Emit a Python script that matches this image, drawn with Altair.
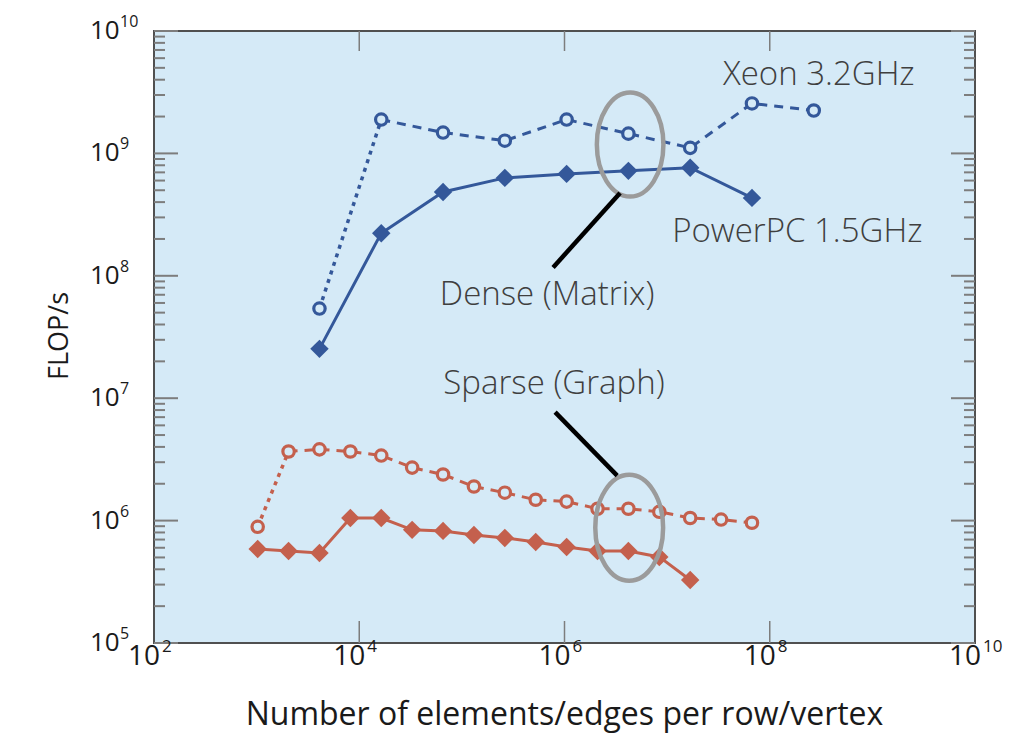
import altair as alt
import pandas as pd

# ---------------- data ----------------
dense_x = [4096, 16384, 65536, 262144, 1048576, 4194304, 16777216, 67108864, 268435456]
xeon_dense = [5.4e7, 1.89e9, 1.48e9, 1.27e9, 1.89e9, 1.45e9, 1.11e9, 2.56e9, 2.24e9]
ppc_dense = [2.53e7, 2.23e8, 4.84e8, 6.31e8, 6.8e8, 7.2e8, 7.64e8, 4.33e8]

sparse_x = [1024, 2048, 4096, 8192, 16384, 32768, 65536, 131072, 262144, 524288,
            1048576, 2097152, 4194304, 8388608, 16777216, 33554432, 67108864]
xeon_sparse = [8.9e5, 3.67e6, 3.82e6, 3.67e6, 3.40e6, 2.71e6, 2.38e6, 1.90e6, 1.69e6,
               1.48e6, 1.43e6, 1.25e6, 1.25e6, 1.18e6, 1.05e6, 1.02e6, 9.6e5]
ppc_sparse = [5.86e5, 5.65e5, 5.44e5, 1.05e6, 1.05e6, 8.4e5, 8.24e5, 7.64e5, 7.22e5,
              6.69e5, 6.09e5, 5.65e5, 5.65e5, 5.05e5, 3.27e5]

# axis ticks / labels
y_major = [1e5, 1e6, 1e7, 1e8, 1e9, 1e10]
y_exp = ["5", "6", "7", "8", "9", "10"]
y_minor = [m * d for d in [1e5, 1e6, 1e7, 1e8, 1e9] for m in range(2, 10)]
x_major = [1e2, 1e4, 1e6, 1e8, 1e10]
x_exp = ["2", "4", "6", "8", "10"]
x_inner_ticks = [1e4, 1e6, 1e8]

# annotations
ann_text = ["Xeon 3.2GHz", "PowerPC 1.5GHz", "Dense (Matrix)", "Sparse (Graph)"]
ann_x = [3.5e7, 1.12e7, 6.1e4, 6.6e4]
ann_y = [4.35e9, 2.3e8, 7.0e7, 1.3e7]
ell_x = [4.36e6, 4.27e6]
ell_y = [1.18e9, 8.73e5]
ell_size = [10816, 11236]
lead_x1 = [3.48e6, 8.1e5]
lead_y1 = [4.75e8, 7.7e6]
lead_x2 = [7.74e5, 3.26e6]
lead_y2 = [1.17e8, 2.33e6]

# ---------------- styling ----------------
BLUE = "#34589a"
RED = "#c4604d"
BG = "#d5eaf7"
FONT = "Open Sans"
W, H = 821, 612

XS = alt.Scale(type="log", domain=[1e2, 1e10])
YS = alt.Scale(type="log", domain=[1e5, 1e10])
X = lambda f="x": alt.X(f"{f}:Q", scale=XS, axis=None)
Y = lambda f="y": alt.Y(f"{f}:Q", scale=YS, axis=None)
CSCALE = alt.Scale(domain=["dense", "sparse"], range=[BLUE, RED])
COL = alt.Color("c:N", scale=CSCALE, legend=None)

# ---------------- tables ----------------
def rows(xs, ys, c):
    return pd.DataFrame({"x": xs[:len(ys)], "y": ys, "c": c})

ppc = pd.concat([rows(dense_x, ppc_dense, "dense"), rows(sparse_x, ppc_sparse, "sparse")])
xeon_d = rows(dense_x, xeon_dense, "dense")
xeon_s = rows(sparse_x, xeon_sparse, "sparse")
xeon = pd.concat([xeon_d, xeon_s])
xeon_dot = pd.concat([xeon_d.iloc[:2], xeon_s.iloc[:2]])
xeon_dash = pd.concat([xeon_d.iloc[1:], xeon_s.iloc[1:]])

solid = alt.Chart(ppc).mark_line(strokeWidth=3).encode(x=X(), y=Y(), color=COL, detail="c:N")
dotted = alt.Chart(xeon_dot).mark_line(strokeWidth=3.5, strokeDash=[4, 5]).encode(
    x=X(), y=Y(), color=COL, detail="c:N")
dashed = alt.Chart(xeon_dash).mark_line(strokeWidth=3, strokeDash=[9, 7]).encode(
    x=X(), y=Y(), color=COL, detail="c:N")
diamonds = alt.Chart(ppc).mark_point(shape="diamond", filled=True, size=340, opacity=1).encode(
    x=X(), y=Y(), color=COL)
circles = alt.Chart(xeon).mark_point(shape="circle", filled=True, size=130, fill=BG,
                                     strokeWidth=3.2, opacity=1).encode(
    x=X(), y=Y(), stroke=alt.Stroke("c:N", scale=CSCALE, legend=None))

ELLIPSE = "M0,-1A0.64,1,0,1,1,0,1A0.64,1,0,1,1,0,-1Z"
ell = alt.Chart(pd.DataFrame({"x": ell_x, "y": ell_y, "s": ell_size})).mark_point(
    shape=ELLIPSE, filled=False, stroke="#9b9b9b", strokeWidth=4.5, opacity=1).encode(
    x=X(), y=Y(), size=alt.Size("s:Q", scale=None, legend=None))
lead = alt.Chart(pd.DataFrame({"x": lead_x1, "y": lead_y1, "x2": lead_x2, "y2": lead_y2})).mark_rule(
    color="black", strokeWidth=4.5).encode(x=X(), y=Y(), x2="x2:Q", y2="y2:Q")
ann = alt.Chart(pd.DataFrame({"x": ann_x, "y": ann_y, "t": ann_text})).mark_text(
    align="left", baseline="middle", font=FONT, fontSize=33, fontWeight=300, color="#3f3f3f").encode(
    x=X(), y=Y(), text="t:N")

# ---------------- ticks ----------------
TICK = "#7d7d7d"
ymaj = pd.DataFrame({"y": y_major, "e": y_exp})
ymin = pd.DataFrame({"y": y_minor})
xin = pd.DataFrame({"x": x_inner_ticks})
ticks = [
    alt.Chart(ymaj).mark_rule(color=TICK, strokeWidth=2).encode(y=Y(), x=alt.value(0), x2=alt.value(24)),
    alt.Chart(ymaj).mark_rule(color=TICK, strokeWidth=2).encode(y=Y(), x=alt.value(W), x2=alt.value(W - 24)),
    alt.Chart(ymin).mark_rule(color=TICK, strokeWidth=2).encode(y=Y(), x=alt.value(0), x2=alt.value(11)),
    alt.Chart(ymin).mark_rule(color=TICK, strokeWidth=2).encode(y=Y(), x=alt.value(W), x2=alt.value(W - 11)),
    alt.Chart(xin).mark_rule(color=TICK, strokeWidth=1.5).encode(x=X(), y=alt.value(0), y2=alt.value(20)),
    alt.Chart(xin).mark_rule(color=TICK, strokeWidth=1.5).encode(x=X(), y=alt.value(H), y2=alt.value(H - 22)),
]

# ---------------- tick labels ----------------
LBL = "#1a1a1a"
ylab_base = alt.Chart(ymaj).mark_text(align="left", baseline="middle", font=FONT, fontSize=26,
                                      color=LBL, dy=0, text="10").encode(y=Y(), x=alt.value(-64))
ylab_exp = alt.Chart(ymaj).mark_text(align="left", baseline="middle", font=FONT, fontSize=16,
                                     color=LBL, dy=-9).encode(y=Y(), x=alt.value(-34), text="e:N")
xmaj = pd.DataFrame({"x": x_major, "e": x_exp})
xlab_base = alt.Chart(xmaj).mark_text(align="right", baseline="middle", font=FONT, fontSize=28,
                                      color=LBL, dx=6, text="10").encode(x=X(), y=alt.value(H + 14))
xlab_exp = alt.Chart(xmaj).mark_text(align="left", baseline="middle", font=FONT, fontSize=17,
                                     color=LBL, dx=8).encode(x=X(), y=alt.value(H + 4), text="e:N")

title_df = pd.DataFrame({"t": ["Number of elements/edges per row/vertex"]})
xtitle = alt.Chart(title_df).mark_text(align="center", baseline="middle", font=FONT, fontSize=32,
                                       color=LBL).encode(text="t:N", x=alt.value(W / 2), y=alt.value(684))
ytitle = alt.Chart(pd.DataFrame({"t": ["FLOP/s"]})).mark_text(
    align="center", baseline="middle", font=FONT, fontSize=27, color=LBL, angle=270).encode(
    text="t:N", x=alt.value(-94), y=alt.value(305))

chart = alt.layer(
    solid, dotted, dashed, diamonds, circles, ell, lead, ann, *ticks,
    ylab_base, ylab_exp, xlab_base, xlab_exp, xtitle, ytitle,
).properties(
    width=W, height=H, autosize="none",
    padding={"left": 146, "top": 23, "right": 28, "bottom": 92},
).configure_view(fill=BG, stroke="#505050", strokeWidth=2)

chart.save("out.html", embed_options={"renderer": "svg", "actions": False})
